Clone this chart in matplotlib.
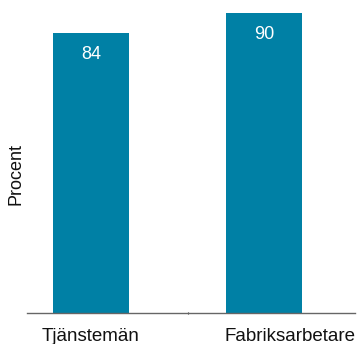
import matplotlib
matplotlib.use("Agg")
import matplotlib.pyplot as plt
import matplotlib.transforms as mtransforms

categories = ["Tjänstemän", "Fabriksarbetare"]
values = [84, 90]
ylabel = "Procent"

plt.rcParams['font.family'] = ['Liberation Sans', 'DejaVu Sans']

W, H = 358, 344
fig = plt.figure(figsize=(W / 100, H / 100), dpi=100)
ax = fig.add_axes([27 / W, 31 / H, 328 / W, 300 / H])

color = "#0080A5"
x = list(range(len(categories)))
bars = ax.bar(x, values, width=0.44, color=color)

ax.set_xlim(-0.37, 1.526)
ax.set_ylim(0, 90)

for b, v in zip(bars, values):
    ax.annotate(str(v), (b.get_x() + b.get_width() / 2, v), xytext=(0, -21.5),
                textcoords="offset pixels",
                ha="center", va="center", color="white", fontsize=13)

for s in ["top", "right", "left"]:
    ax.spines[s].set_visible(False)
ax.spines["bottom"].set_color("#666666")
ax.spines["bottom"].set_linewidth(1.0)
ax.set_yticks([])
ax.set_xticks(x)
ax.set_xticklabels(categories, fontsize=13.5, color="#111111")
ax.tick_params(axis="x", length=0, pad=10.5)
ax.set_xticks([0.56], minor=True)
ax.tick_params(axis="x", which="minor", length=1.5, width=0.8, direction="inout", color="#333333")

# shift the second label to fit within the figure
lbl = ax.get_xticklabels()[1]
lbl.set_transform(lbl.get_transform() + mtransforms.ScaledTranslation(26 / 100, 0, fig.dpi_scale_trans))

fig.text(16 / W, 1 - 174 / H, ylabel, rotation=90, ha="center", va="center", fontsize=13, color="#111111")

fig.savefig("out.png", dpi=100)
